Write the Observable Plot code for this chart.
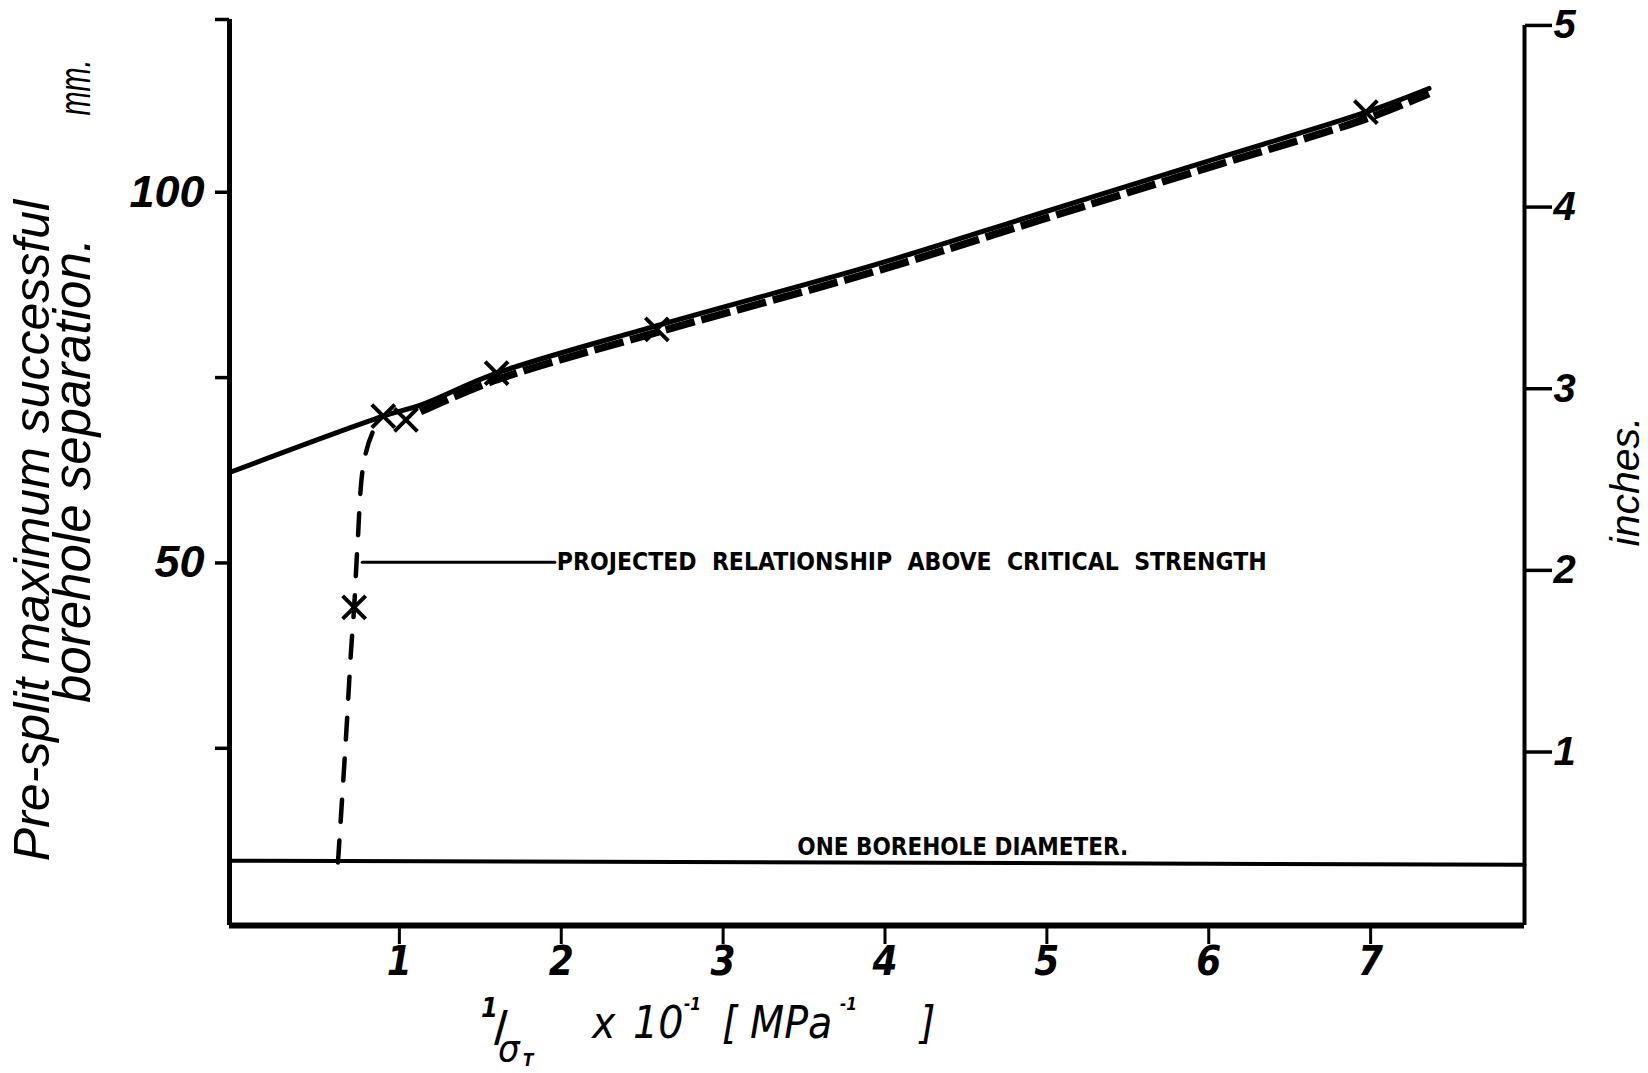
<!DOCTYPE html>
<html>
<head>
<meta charset="utf-8">
<script src="https://cdn.jsdelivr.net/npm/d3@7"></script>
<script src="https://cdn.jsdelivr.net/npm/@observablehq/plot@0.6"></script>
<style>
  html, body { margin: 0; padding: 0; background: #fff; }
  #wrap { position: relative; width: 1648px; height: 1073px; overflow: hidden; background: #fff; }
  #xlabel { position: relative; height: 83px; width: 1648px; font-family: "Liberation Sans Narrow", "DejaVu Sans Condensed", sans-serif; font-style: italic; color: #000; }
  #xlabel span { position: absolute; white-space: pre; line-height: 1; }
  .main { font-size: 44px; top: 11px; }
  .sup { font-size: 17px; top: 6px; font-weight: bold; }
</style>
</head>
<body>
<div id="wrap"></div>
<script>
// ---------- data ----------
// x: 1/sigma_T x 10^-1 (MPa^-1); y: separation in mm
const xTicks = [1, 2, 3, 4, 5, 6, 7];
const yTicksMM = [25, 50, 75, 100];
const yTickLabels = {50: "50", 100: "100"};
const inchTicks = [1, 2, 3, 4, 5];
const MM_PER_INCH_AS_DRAWN = 24.5;

// measured points (crosses)
const pointX = [0.77, 0.95, 1.09, 1.65, 2.64, 7.02];
const pointY = [44.0, 69.8, 69.3, 75.6, 81.5, 110.8];

// solid fitted line
const solidX = [0, 0.95, 1.18, 1.65, 2.64, 4.0, 5.0, 6.0, 7.02, 7.41];
const solidY = [62.2, 69.8, 71.3, 75.6, 82.0, 90.3, 97.1, 103.9, 110.8, 114.0];

// heavy dashed line drawn just below the solid one
const heavyX = [1.18, 1.65, 2.64, 4.0, 5.0, 6.0, 7.02, 7.41];
const heavyY = [70.4, 74.7, 81.1, 89.4, 96.2, 103.0, 109.9, 113.3];

// projected relationship (dashed curve) below critical strength
const projX = [0.67, 0.72, 0.75, 0.77, 0.79, 0.83, 0.89, 0.95];
const projY = [9.6, 26.6, 37.9, 44.0, 52.1, 63.6, 67.9, 69.8];

// one borehole diameter line
const boreX = [0, 8];
const boreY = [9.85, 9.3];
const boreLabel = "ONE BOREHOLE DIAMETER.";
const boreLabelX = 4.53;

// callout
const calloutX = [0.82, 2.01];
const calloutY = [50.1, 50.1];
const calloutLabel = "PROJECTED  RELATIONSHIP  ABOVE  CRITICAL  STRENGTH";

const X_DOMAIN = [0, 8];
const Y_DOMAIN = [1.1, 123.3];

// ---------- build tables ----------
const zip = (xs, ys) => xs.map((x, i) => ({x, y: ys[i]}));
const points = zip(pointX, pointY);
const solid = zip(solidX, solidY);
const heavy = zip(heavyX, heavyY);
const proj = zip(projX, projY);
const bore = zip(boreX, boreY);
const callout = zip(calloutX, calloutY);
const boreAt = boreY[0] + (boreY[1] - boreY[0]) * (boreLabelX - boreX[0]) / (boreX[1] - boreX[0]);

const tickFont = "Liberation Sans, Arial, sans-serif";
const narrowFont = "Liberation Sans Narrow, DejaVu Sans Condensed, sans-serif";

const chart = Plot.plot({
  width: 1648,
  height: 990,
  marginLeft: 229,
  marginRight: 124,
  marginTop: 19,
  marginBottom: 65,
  x: {domain: X_DOMAIN},
  y: {domain: Y_DOMAIN},
  style: {background: "white", color: "black", fontFamily: tickFont, overflow: "visible"},
  marks: [
    // frame: left axis, right axis, bottom axis
    Plot.ruleX([X_DOMAIN[0]], {stroke: "black", strokeWidth: 5}),
    Plot.ruleX([X_DOMAIN[1]], {y1: Y_DOMAIN[0], y2: inchTicks[inchTicks.length - 1] * MM_PER_INCH_AS_DRAWN, stroke: "black", strokeWidth: 4}),
    Plot.ruleY([Y_DOMAIN[0]], {stroke: "black", strokeWidth: 6}),

    Plot.axisX({
      ticks: xTicks, tickSize: 19, tickPadding: 2, strokeWidth: 3,
      fontSize: 40, fontStyle: "italic", fontWeight: "bold", fontFamily: narrowFont, dx: 8,
      label: null
    }),
    Plot.axisY({
      anchor: "left", ticks: [...yTicksMM, Y_DOMAIN[1]],
      tickFormat: d => yTickLabels[d] ?? "",
      tickSize: 14, tickPadding: 11, strokeWidth: 3.5,
      fontSize: 45, fontStyle: "italic", fontWeight: "bold", fontFamily: tickFont,
      label: null
    }),
    Plot.axisY({
      anchor: "right", ticks: inchTicks.map(i => i * MM_PER_INCH_AS_DRAWN),
      tickFormat: (d) => String(Math.round(d / MM_PER_INCH_AS_DRAWN)),
      tickSize: 27, tickPadding: 2, strokeWidth: 3.5,
      fontSize: 40, fontStyle: "italic", fontWeight: "bold", fontFamily: tickFont,
      label: null
    }),

    // axis titles
    Plot.text(["Pre-split maximum successful"], {frameAnchor: "left", textAnchor: "middle", lineAnchor: "middle", dx: -197, dy: 58, rotate: -90, fontSize: 50, fontStyle: "italic", fontFamily: tickFont}),
    Plot.text(["borehole separation."], {frameAnchor: "left", textAnchor: "middle", lineAnchor: "middle", dx: -156, dy: -2, rotate: -90, fontSize: 51, fontStyle: "italic", fontFamily: tickFont}),
    Plot.text(["mm."], {frameAnchor: "left", textAnchor: "middle", lineAnchor: "middle", dx: -154, dy: -385, rotate: -90, fontSize: 44, fontStyle: "italic", fontFamily: tickFont}),
    Plot.text(["inches."], {frameAnchor: "right", textAnchor: "middle", lineAnchor: "middle", dx: 101, dy: 9, rotate: -90, fontSize: 41, fontStyle: "italic", fontFamily: tickFont}),

    // borehole diameter
    Plot.line(bore, {x: "x", y: "y", stroke: "black", strokeWidth: 4}),
    Plot.text([boreLabel], {x: boreLabelX, y: boreAt, dy: -8, lineAnchor: "bottom", fontSize: 24, fontWeight: "bold", fontFamily: narrowFont}),

    // projection curve
    Plot.line(proj, {x: "x", y: "y", curve: "catmull-rom", stroke: "black", strokeWidth: 4.5, strokeDasharray: "22,19", strokeLinecap: "round"}),

    // callout
    Plot.line(callout, {x: "x", y: "y", stroke: "black", strokeWidth: 3}),
    Plot.text([calloutLabel], {x: calloutX[1], y: calloutY[1], dx: 2, textAnchor: "start", lineAnchor: "middle", fontSize: 24.5, fontWeight: "bold", fontFamily: narrowFont}),

    // fitted lines
    Plot.line(solid, {x: "x", y: "y", curve: "catmull-rom", stroke: "black", strokeWidth: 5, strokeLinecap: "round"}),
    Plot.line(heavy, {x: "x", y: "y", curve: "catmull-rom", stroke: "black", strokeWidth: 7.5, strokeDasharray: "30,7", strokeLinecap: "butt"}),

    // crosses
    Plot.dot(points, {x: "x", y: "y", symbol: "times", r: 10.5, stroke: "black", strokeWidth: 4, fill: "none"})
  ]
});

chart.querySelectorAll("text").forEach(t => {
  if (t.textContent.includes("  ")) { t.setAttribute("xml:space", "preserve"); t.style.whiteSpace = "pre"; }
  if (t.textContent === "mm.") { t.setAttribute("textLength", "56"); t.setAttribute("lengthAdjust", "spacingAndGlyphs"); }
});

const wrap = document.getElementById("wrap");
wrap.appendChild(chart);

// x-axis title: 1/σT x 10^-1 [ MPa^-1 ]
const xl = document.createElement("div");
xl.id = "xlabel";
const parts = [
  ["1", "left:481px;top:4px;font-size:27px;font-weight:bold"],
  ["/", "left:494px;top:16px;font-size:42px;font-style:normal;font-weight:bold"],
  ["σ", "left:498px;top:39px;font-size:38px"],
  ["T", "left:523px;top:62px;font-size:17px;font-weight:bold"],
  ["x", "left:592px", "main"],
  ["10", "left:633px", "main"],
  ["-1", "left:684px", "sup"],
  ["[", "left:722px", "main"],
  ["MPa", "left:750px", "main"],
  ["-1", "left:840px", "sup"],
  ["]", "left:920px", "main"]
];
for (const [txt, css, cls] of parts) {
  const s = document.createElement("span");
  s.textContent = txt;
  if (cls) s.className = cls;
  s.style.cssText += css;
  xl.appendChild(s);
}
wrap.appendChild(xl);
</script>
</body>
</html>
